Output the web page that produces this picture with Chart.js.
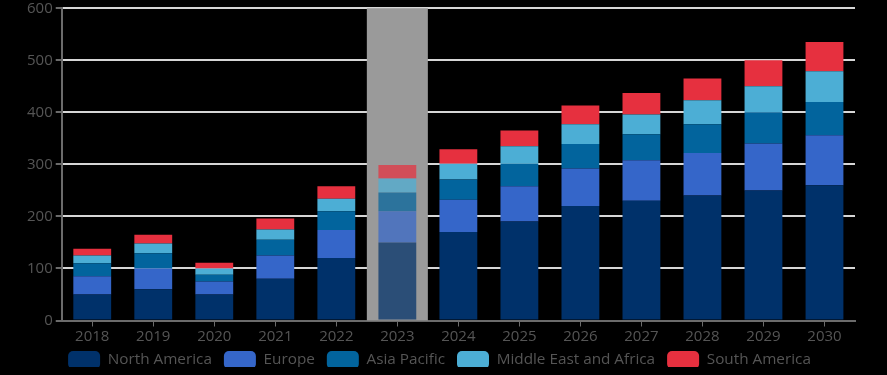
<!DOCTYPE html>
<html>
<head>
<meta charset="utf-8">
<script src="https://cdn.jsdelivr.net/npm/chart.js@4.4.1/dist/chart.umd.min.js"></script>
<style>
  html, body { margin: 0; padding: 0; background: #000; overflow: hidden; }
  #wrap { width: 887px; height: 378px; margin-top: -3px; position: relative; }
</style>
</head>
<body>
<div id="wrap"><canvas id="market-chart"></canvas></div>
<script>
// ---- data (stacked values per region) ----
const years        = ['2018','2019','2020','2021','2022','2023','2024','2025','2026','2027','2028','2029','2030'];
const northAmerica = [50, 60, 50, 80, 120, 150, 170, 190, 220, 230, 240, 250, 260];
const europe       = [35, 40, 25, 45,  54,  60,  62,  68,  72,  78,  82,  90,  96];
const asiaPacific  = [25, 29, 13, 30,  36,  36,  39,  43,  47,  50,  55,  60,  64];
const middleEastAf = [15, 19, 12, 20,  24,  27,  30,  34,  38,  38,  46,  50,  59];
const southAmerica = [13, 17, 11, 21,  24,  26,  28,  30,  36,  41,  42,  50,  56];
const yTicks       = [0, 100, 200, 300, 400, 500, 600];
const highlightYear = '2023';

const hiIdx = years.indexOf(highlightYear);

// colour per bar: the highlighted year is washed out over the grey band
function barColors(hex, alpha) {
  const r = parseInt(hex.slice(1,3),16), g = parseInt(hex.slice(3,5),16), b = parseInt(hex.slice(5,7),16);
  return years.map((_, i) => i === hiIdx ? `rgba(${r},${g},${b},${alpha})` : hex);
}

const series = [
  { label: 'North America',          data: northAmerica, color: '#00316a' },
  { label: 'Europe',                 data: europe,       color: '#3566c9' },
  { label: 'Asia Pacific',           data: asiaPacific,  color: '#02649d' },
  { label: 'Middle East and Africa', data: middleEastAf, color: '#4caed5' },
  { label: 'South America',          data: southAmerica, color: '#e6303f' },
];

// grey band behind the highlighted category
const bandPlugin = {
  id: 'band',
  beforeDatasetsDraw(chart) {
    const { ctx, chartArea, scales: { x } } = chart;
    const step = x.getPixelForValue(1) - x.getPixelForValue(0);
    const cx = x.getPixelForValue(hiIdx);
    ctx.save();
    ctx.fillStyle = '#9a9a9a';
    ctx.fillRect(cx - step / 2, chartArea.top, step, chartArea.bottom - chartArea.top);
    ctx.restore();
  }
};

// legend sits tighter under the axis labels than Chart.js would put it
const legendFit = {
  id: 'legendFit',
  beforeInit(chart) {
    const fit = chart.legend.fit;
    chart.legend.fit = function () {
      fit.call(this);
      this.height -= 12;
    };
  },
  afterLayout(chart) {
    chart.legend.top -= 8;
    chart.legend.bottom -= 8;
  }
};

const tickFont = { family: 'Open Sans', size: 15, lineHeight: 1.1 };

new Chart(document.getElementById('market-chart'), {
  type: 'bar',
  data: {
    labels: years,
    datasets: series.map(s => ({
      label: s.label,
      data: s.data,
      backgroundColor: barColors(s.color, 0.72),
      borderWidth: 0,
      barPercentage: 0.62,
      categoryPercentage: 1.0,
    }))
  },
  options: {
    responsive: true,
    maintainAspectRatio: false,
    animation: false,
    layout: { padding: { left: 24, right: 32, top: 0, bottom: 0 } },
    plugins: {
      tooltip: { enabled: false },
      legend: {
        position: 'bottom',
        labels: {
          color: '#555555',
          font: { family: 'Open Sans', size: 15.3 },
          boxWidth: 32,
          boxHeight: 18,
          useBorderRadius: true,
          borderRadius: 5,
          padding: 12,
        }
      }
    },
    scales: {
      x: {
        stacked: true,
        grid: { display: true, drawOnChartArea: false, offset: false, tickLength: 6, tickColor: '#6b6b6b' },
        border: { color: '#6b6b6b', width: 2 },
        ticks: { color: '#555555', font: tickFont, padding: 2 },
      },
      y: {
        stacked: true,
        min: 0, max: 600,
        afterBuildTicks: axis => { axis.ticks = yTicks.map(v => ({ value: v })); },
        grid: { color: '#d6d6d6', lineWidth: 2, tickLength: 6, tickColor: '#6b6b6b' },
        border: { color: '#6b6b6b', width: 2 },
        ticks: { color: '#555555', font: tickFont, padding: 3 },
      }
    }
  },
  plugins: [bandPlugin, legendFit]
});
</script>
</body>
</html>
